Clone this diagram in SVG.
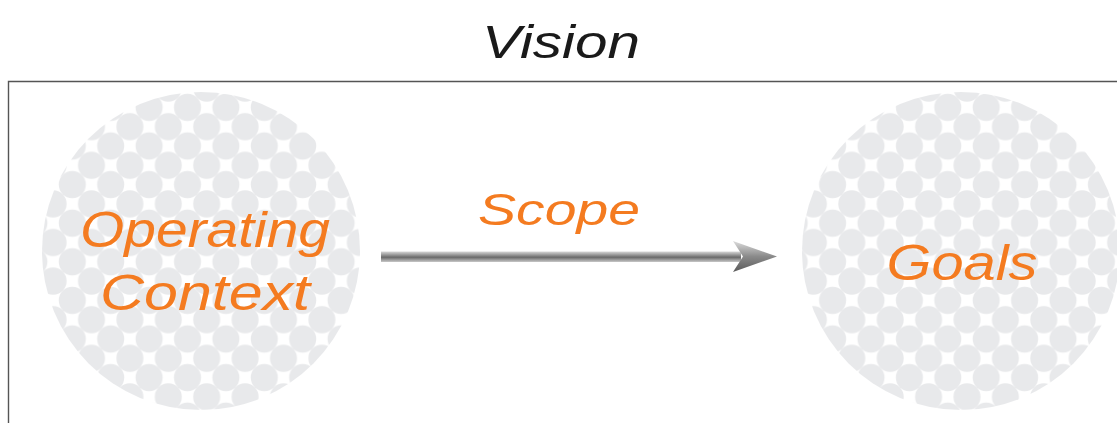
<svg xmlns="http://www.w3.org/2000/svg" width="1117" height="423" viewBox="0 0 1117 423">
<style>
.hand{font-family:"Liberation Sans","DejaVu Sans",sans-serif;font-style:italic;}
.lbl{fill:#f47b20;}
.title{fill:#1a1a1a;}
</style>
<defs>
<pattern id="dotsL" patternUnits="userSpaceOnUse" x="206.7" y="126.7" width="38.4" height="38.6">
<rect width="38.4" height="38.6" fill="#ffffff"/>
<g fill="#e8e9eb">
<circle cx="0" cy="0" r="13.5"/><circle cx="38.4" cy="0" r="13.5"/>
<circle cx="19.2" cy="19.3" r="13.5"/>
<circle cx="0" cy="38.6" r="13.5"/><circle cx="38.4" cy="38.6" r="13.5"/>
</g>
</pattern>
<pattern id="dotsR" href="#dotsL" x="967" y="126.7"/>
<linearGradient id="shaftG" x1="0" y1="0" x2="0" y2="1">
<stop offset="0" stop-color="#d8d8d8"/>
<stop offset="0.55" stop-color="#6a6a6a"/>
<stop offset="1" stop-color="#c8c8c8"/>
</linearGradient>
<linearGradient id="headG" x1="0" y1="0" x2="0" y2="1">
<stop offset="0" stop-color="#dcdcdc"/>
<stop offset="0.5" stop-color="#8a8a8a"/>
<stop offset="1" stop-color="#5a5a5a"/>
</linearGradient>
</defs>
<rect width="1117" height="423" fill="#ffffff"/>
<g id="frame">
<path d="M8.5,424 V81.5 H1118" fill="none" stroke="#555555" stroke-width="1.4"/>
</g>
<g id="title">
<text class="hand title" x="561" y="58" font-size="46" text-anchor="middle" textLength="158" lengthAdjust="spacingAndGlyphs">Vision</text>
</g>
<g id="operating-context">
<circle cx="201" cy="251" r="159" fill="url(#dotsL)"/>
<text class="hand lbl" x="205" y="247" font-size="50" text-anchor="middle" textLength="250" lengthAdjust="spacingAndGlyphs">Operating</text>
<text class="hand lbl" x="205" y="310" font-size="50" text-anchor="middle" textLength="210" lengthAdjust="spacingAndGlyphs">Context</text>
</g>
<g id="goals">
<circle cx="961" cy="251" r="159" fill="url(#dotsR)"/>
<text class="hand lbl" x="962" y="280" font-size="50" text-anchor="middle" textLength="151" lengthAdjust="spacingAndGlyphs">Goals</text>
</g>
<g id="connectors">
<rect x="381" y="251.5" width="360" height="10.5" fill="url(#shaftG)"/>
<polygon points="733,241 777,256.5 733,272 743,256.5" fill="url(#headG)"/>
<text class="hand lbl" x="559" y="225" font-size="44" text-anchor="middle" textLength="162" lengthAdjust="spacingAndGlyphs">Scope</text>
</g>
</svg>
